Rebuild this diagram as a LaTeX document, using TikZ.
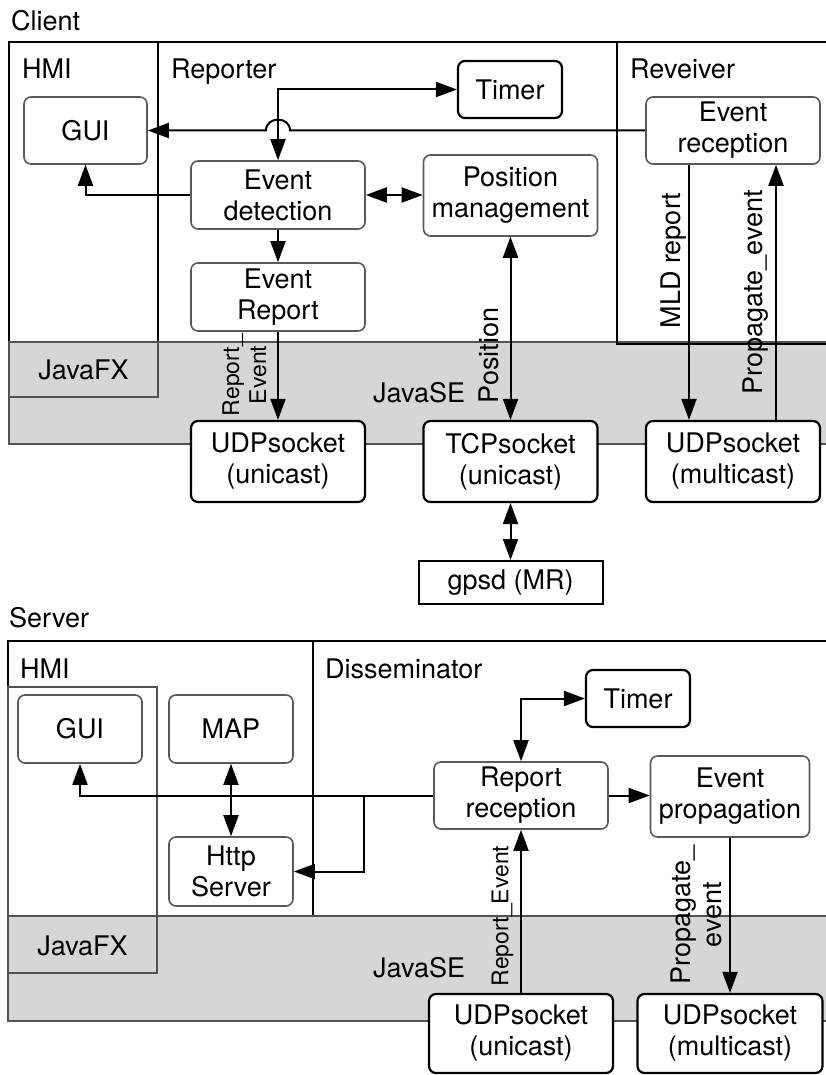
\documentclass[tikz,border=0pt]{standalone}
\usepackage{fontspec}
\setmainfont{TeX Gyre Heros}
\usetikzlibrary{arrows.meta}
\newcommand\bigf{\fontsize{27}{31}\selectfont}
\newcommand\smallf{\fontsize{23}{27}\selectfont}
\tikzset{
  region/.style={draw=black, line width=2pt},
  band/.style={draw=black!68, fill=black!16, line width=2pt},
  frame/.style={draw=black!68, line width=2pt},
  box/.style={draw=black!65, line width=1.6pt, rounded corners=7pt, fill=white,
    align=center, inner sep=0pt, font=\bigf},
  sock/.style={box, draw=black, line width=2.2pt},
  plainbox/.style={draw=black, line width=2pt, fill=white, align=center,
    inner sep=0pt, font=\bigf},
  title/.style={anchor=base west, inner sep=0pt, font=\bigf},
  lab/.style={rotate=90, align=center, inner sep=0pt, font=\bigf},
  slab/.style={lab, font=\smallf},
  tip/.tip={Triangle[length=21pt,width=15pt]},
  conn/.style={line width=2pt, -tip},
  conn2/.style={line width=2pt, tip-tip},
}
\begin{document}
\begin{tikzpicture}[x=1pt,y=-1pt]
\useasboundingbox (0,0) rectangle (826,1075);
\clip (0,0) rectangle (826,1075);

% ---------------- Client ----------------
\node[title] (tclient) at (11,31) {Client};
\draw[region] (9,42) rectangle (158,342);
\draw[region] (158,42) rectangle (617,342);
\draw[band] (9,342) rectangle (840,444);
\draw[band] (9,342) rectangle (158,397);
\draw[region] (617,42) rectangle (840,343.5);

\node[title] (thmi) at (22,79) {HMI};
\node[title] (trep) at (171,79) {Reporter};
\node[title] (trecv) at (630,79) {Reveiver};
\node[title, anchor=base] (tfx) at (83.5,379) {JavaFX};
\node[title] (tse) at (373,402) {JavaSE};

\node[box, minimum width=123, minimum height=67] (cgui) at (85.5,130.5) {GUI};
\node[box, minimum width=174, minimum height=68] (cdet) at (278,195) {Event\\detection};
\node[box, minimum width=174, minimum height=68] (crep) at (278,297) {Event\\Report};
\node[sock, minimum width=104, minimum height=57] (ctimer) at (510,89.5) {Timer};
\node[box, minimum width=174, minimum height=81] (cpos) at (510.5,195.5) {Position\\management};
\node[box, minimum width=174, minimum height=67] (crecv) at (733,130.5) {Event\\reception};
\node[sock, minimum width=174, minimum height=81] (cudp) at (278,461.5) {UDPsocket\\(unicast)};
\node[sock, minimum width=174, minimum height=81] (ctcp) at (510.5,461.5) {TCPsocket\\(unicast)};
\node[sock, minimum width=174, minimum height=81] (cmul) at (733,461.5) {UDPsocket\\(multicast)};
\node[plainbox, minimum width=184, minimum height=43] (gpsd) at (510.5,582.5) {gpsd (MR)};

% event reception to GUI, hopping over the timer line
\draw[conn] (crecv.west) -- (290,130.5) .. controls (290,116) and (266,116) .. (266,130.5) -- (cgui.east);
\draw[conn2] (cdet.north) |- (ctimer.west);
\draw[conn] (cdet.west) -| (cgui.south);
\draw[conn2] (cdet.east) -- (cpos.west |- cdet.east);
\draw[conn] (cdet.south) -- (crep.north);
\draw[conn] (crep.south) -- (cudp.north);
\draw[conn2] (cpos.south) -- (ctcp.north);
\draw[conn2] (ctcp.south) -- (gpsd.north);
\draw[conn] ([xshift=-44pt]crecv.south) -- ([xshift=-44pt]cmul.north);
\draw[conn] ([xshift=43pt]cmul.north) -- ([xshift=43pt]crecv.south);

\node[slab] (lrep) at (244.5,375) {Report\_\\Event};
\node[lab] (lpos) at (489,355.5) {Position};
\node[lab] (lmld) at (674,260.5) {MLD report};
\node[lab] (lprop) at (756,292.5) {Propagate\_event};

% ---------------- Server ----------------
\node[title] (tserver) at (9,627) {Server};
\draw[region] (8,641) rectangle (313,916);
\draw[region] (313,641) rectangle (840,916);
\draw[band] (8,916) rectangle (840,1021);
\draw[frame] (8,687) rectangle (157,973);
\draw[band] (8,916) rectangle (157,973);

\node[title] (thmi2) at (20,678) {HMI};
\node[title] (tdis) at (325,678) {Disseminator};
\node[title, anchor=base] (tfx2) at (82.5,955) {JavaFX};
\node[title] (tse2) at (373,977) {JavaSE};

\node[box, minimum width=124, minimum height=68] (sgui) at (80,729) {GUI};
\node[box, minimum width=124, minimum height=68] (smap) at (231,729) {MAP};
\node[box, minimum width=124, minimum height=69] (shttp) at (231,871.5) {Http\\Server};
\node[sock, minimum width=104, minimum height=57] (stimer) at (638,698.5) {Timer};
\node[box, minimum width=174, minimum height=67] (srr) at (521,795.5) {Report\\reception};
\node[box, minimum width=159, minimum height=81] (sep) at (730,796.5) {Event\\propagation};
\node[sock, minimum width=184, minimum height=79] (sudp) at (521,1033.5) {UDPsocket\\(unicast)};
\node[sock, minimum width=185, minimum height=79] (smul) at (730,1033.5) {UDPsocket\\(multicast)};

\coordinate (br) at (364,795.5);
\draw[conn] (srr.west) -| (sgui.south);
\draw[conn] (br) |- (shttp.east);
\draw[conn2] (smap.south) -- (shttp.north);
\draw[conn2] (srr.north) |- (stimer.west);
\draw[conn] (srr.east) -- (sep.west |- srr.east);
\draw[conn] (sudp.north) -- (srr.south);
\draw[conn] (sep.south) -- (smul.north);

\node[slab] (lrep2) at (502.5,916) {Report\_Event};
\node[lab] (lprop2) at (696.5,915) {Propagate\_\\event};
\end{tikzpicture}
\end{document}
